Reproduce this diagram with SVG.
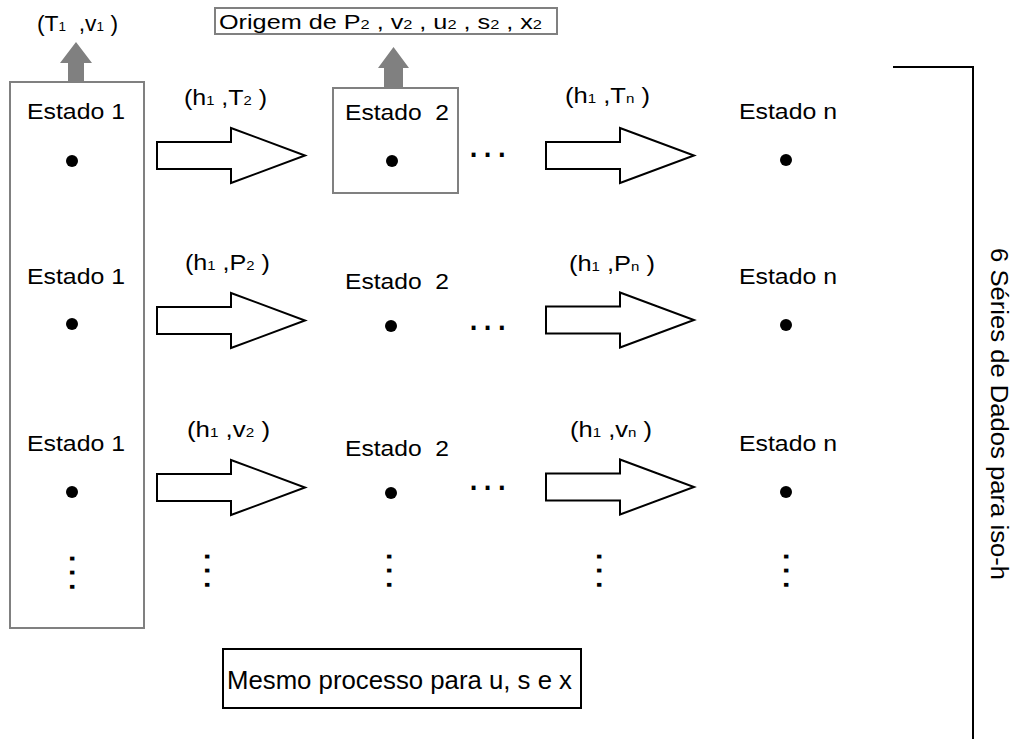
<svg xmlns="http://www.w3.org/2000/svg" width="1025" height="739" viewBox="0 0 1025 739">
<style>
  text { font-family: "Liberation Sans", Arial, sans-serif; fill: #000; }
  .st { font-size: 22px; }
  .lb { font-size: 22px; }
  .sub { font-size: 13px; }
  .grayBox { fill: #fff; stroke: #808080; stroke-width: 2; }
  .blackBox { fill: #fff; stroke: #000; stroke-width: 2; }
  .hollow { fill: #fff; stroke: #000; stroke-width: 2; stroke-linejoin: miter; }
  .gArrow { fill: #808080; stroke: none; }
  .dot { fill: #000; }
  .ell { font-size: 40px; letter-spacing: 3px; }
</style>
<defs>
  <path id="bigArrow" class="hollow" d="M0,-13.5 H74 V-27.5 L148,0 L74,27.5 V13.5 H0 Z"/>
</defs>

<rect width="1025" height="739" fill="#fff"/>

<g id="box-estado1">
  <rect class="grayBox" x="10" y="82" width="134" height="546"/>
</g>

<g id="box-estado2">
  <rect class="grayBox" x="333" y="88" width="125" height="105"/>
</g>

<g id="origem">
  <rect class="grayBox" x="215" y="8" width="342" height="26"/>
  <text x="219" y="29" font-size="20" textLength="323" lengthAdjust="spacingAndGlyphs">Origem de P<tspan class="sub">2</tspan> , v<tspan class="sub">2</tspan> , u<tspan class="sub">2</tspan> , s<tspan class="sub">2</tspan> , x<tspan class="sub">2</tspan></text>
</g>

<g id="label-T1v1">
  <text class="lb" x="37" y="31" textLength="81" lengthAdjust="spacingAndGlyphs" xml:space="preserve">(T<tspan class="sub">1</tspan>  ,v<tspan class="sub">1</tspan> )</text>
</g>

<g id="connectors">
  <polygon class="gArrow" points="68,82 84,82 84,63 92,63 76,42 60,63 68,63"/>
  <polygon class="gArrow" points="384,88 403,88 403,68 409,68 393.5,47 378,68 384,68"/>
  <use href="#bigArrow" transform="translate(157,155.5)"/>
  <use href="#bigArrow" transform="translate(546,155.5)"/>
  <use href="#bigArrow" transform="translate(157,320.5)"/>
  <use href="#bigArrow" transform="translate(546,320)"/>
  <use href="#bigArrow" transform="translate(157,487.5)"/>
  <use href="#bigArrow" transform="translate(546,487)"/>
</g>

<g id="arrow-labels">
  <text class="lb" x="184" y="105" textLength="83" lengthAdjust="spacingAndGlyphs">(h<tspan class="sub">1</tspan> ,T<tspan class="sub">2</tspan> )</text>
  <text class="lb" x="565" y="103" textLength="85" lengthAdjust="spacingAndGlyphs">(h<tspan class="sub">1</tspan> ,T<tspan class="sub">n</tspan> )</text>
  <text class="lb" x="185" y="270" textLength="85" lengthAdjust="spacingAndGlyphs">(h<tspan class="sub">1</tspan> ,P<tspan class="sub">2</tspan> )</text>
  <text class="lb" x="569" y="271" textLength="86" lengthAdjust="spacingAndGlyphs">(h<tspan class="sub">1</tspan> ,P<tspan class="sub">n</tspan> )</text>
  <text class="lb" x="187" y="437" textLength="83" lengthAdjust="spacingAndGlyphs">(h<tspan class="sub">1</tspan> ,v<tspan class="sub">2</tspan> )</text>
  <text class="lb" x="570" y="437" textLength="82" lengthAdjust="spacingAndGlyphs">(h<tspan class="sub">1</tspan> ,v<tspan class="sub">n</tspan> )</text>
</g>

<g id="states-row1">
  <text class="st" x="27" y="119" textLength="98" lengthAdjust="spacingAndGlyphs">Estado 1</text>
  <circle class="dot" cx="72" cy="161" r="6"/>
  <text class="st" x="345" y="120" textLength="104" lengthAdjust="spacingAndGlyphs" xml:space="preserve">Estado  2</text>
  <circle class="dot" cx="392" cy="161" r="6"/>
  <text class="st" x="739" y="119" textLength="98" lengthAdjust="spacingAndGlyphs">Estado n</text>
  <circle class="dot" cx="786" cy="160" r="6"/>
</g>

<g id="states-row2">
  <text class="st" x="27" y="284" textLength="98" lengthAdjust="spacingAndGlyphs">Estado 1</text>
  <circle class="dot" cx="72" cy="324" r="6"/>
  <text class="st" x="345" y="289" textLength="104" lengthAdjust="spacingAndGlyphs" xml:space="preserve">Estado  2</text>
  <circle class="dot" cx="391" cy="326" r="6"/>
  <text class="st" x="739" y="284" textLength="98" lengthAdjust="spacingAndGlyphs">Estado n</text>
  <circle class="dot" cx="786" cy="325" r="6"/>
</g>

<g id="states-row3">
  <text class="st" x="27" y="451" textLength="98" lengthAdjust="spacingAndGlyphs">Estado 1</text>
  <circle class="dot" cx="72" cy="492" r="6"/>
  <text class="st" x="345" y="456" textLength="104" lengthAdjust="spacingAndGlyphs" xml:space="preserve">Estado  2</text>
  <circle class="dot" cx="391" cy="493" r="6"/>
  <text class="st" x="739" y="451" textLength="98" lengthAdjust="spacingAndGlyphs">Estado n</text>
  <circle class="dot" cx="786" cy="492" r="6"/>
</g>

<g id="ellipses">
  <text class="ell" x="468" y="157">...</text>
  <text class="ell" x="468" y="330">...</text>
  <text class="ell" x="468" y="490">...</text>
  <text class="ell" transform="translate(70,553) rotate(90)">...</text>
  <text class="ell" transform="translate(205,551) rotate(90)">...</text>
  <text class="ell" transform="translate(387,551) rotate(90)">...</text>
  <text class="ell" transform="translate(597,551) rotate(90)">...</text>
  <text class="ell" transform="translate(784,551) rotate(90)">...</text>
</g>

<g id="mesmo">
  <rect class="blackBox" x="223" y="649" width="358" height="59"/>
  <text x="227" y="689" font-size="25" textLength="345" lengthAdjust="spacingAndGlyphs">Mesmo processo para u, s e x</text>
</g>

<g id="bracket">
  <polyline points="893,67 973,67 973,739" fill="none" stroke="#000" stroke-width="2"/>
  <text transform="translate(991,414) rotate(90)" font-size="23" text-anchor="middle" textLength="332" lengthAdjust="spacingAndGlyphs">6 Séries de Dados para iso-h</text>
</g>
</svg>
